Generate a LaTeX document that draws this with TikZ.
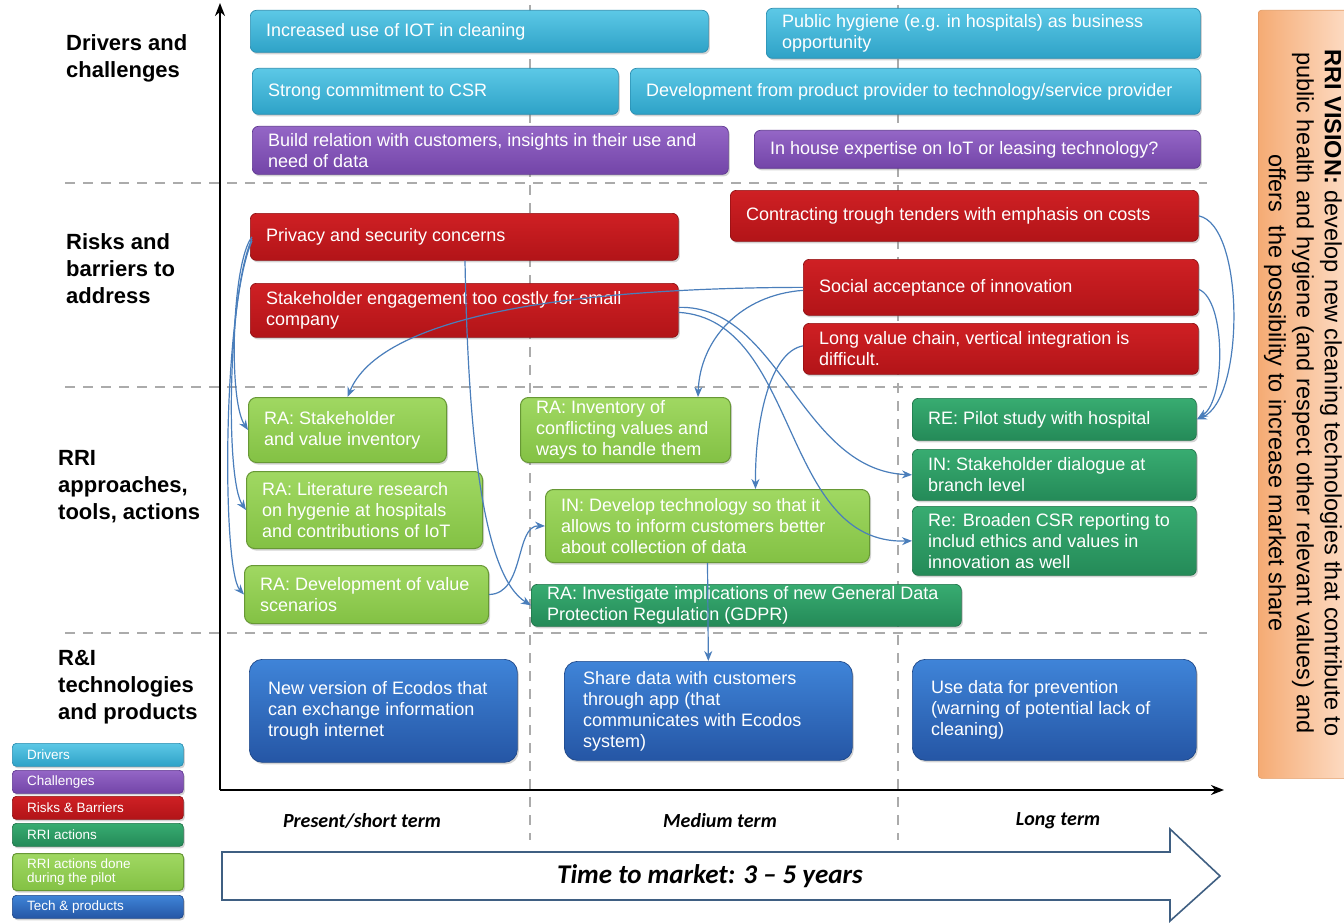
\documentclass[tikz,border=0pt]{standalone}
\usepackage{fontspec}
\setmainfont{Liberation Sans}
\newfontfamily\calib{Carlito}
\usetikzlibrary{arrows.meta,shadows,calc}

\definecolor{drvT}{HTML}{5CC8E6}\definecolor{drvB}{HTML}{2EA2C7}\definecolor{drvL}{HTML}{2A8DB0}
\definecolor{chlT}{HTML}{9466C6}\definecolor{chlB}{HTML}{7345A8}\definecolor{chlL}{HTML}{5E3690}
\definecolor{rskT}{HTML}{CF2024}\definecolor{rskB}{HTML}{B21418}\definecolor{rskL}{HTML}{8E1013}
\definecolor{actT}{HTML}{38AC71}\definecolor{actB}{HTML}{248A58}\definecolor{actL}{HTML}{1E7348}
\definecolor{pilT}{HTML}{A0D862}\definecolor{pilB}{HTML}{83C144}\definecolor{pilL}{HTML}{679835}
\definecolor{tecT}{HTML}{3F84D8}\definecolor{tecB}{HTML}{2556A5}\definecolor{tecL}{HTML}{1E4788}
\definecolor{visL}{HTML}{F5AB74}\definecolor{visR}{HTML}{FDDDC6}\definecolor{visD}{HTML}{E39A62}
\definecolor{linkc}{HTML}{4A7EBB}
\definecolor{sepc}{HTML}{ABABAB}
\definecolor{timec}{HTML}{3F5F82}

% left padding of the text inside a box
\def\rrpad{16}
% a coloured box (named #1) with its text placed on the left
\newcommand\rrbox[7]{%
  \node[#2, anchor=north west, minimum width=#5pt, minimum height=#6pt, inner sep=0pt] (#1) at (#3,#4) {};
  \node[boxtext, anchor=west] at ($(#1.west)+(\rrpad,0)$) {#7};}
% a legend entry
\newcommand\lgbox[5]{%
  \node[#2, anchor=north west, minimum width=171pt, minimum height=#4pt, inner sep=0pt, rounded corners=4pt] (#1) at (12,#3) {};
  \node[lgtext, anchor=west] at ($(#1.west)+(15,0)$) {#5};}

\begin{document}
\begin{tikzpicture}[x=1pt,y=-1pt,
  shade/.style={drop shadow={shadow xshift=1.5pt, shadow yshift=-2pt, opacity=0.35}},
  drv/.style={rounded corners=6pt, top color=drvT, bottom color=drvB, draw=drvL, line width=0.7pt, shade},
  chl/.style={rounded corners=6pt, top color=chlT, bottom color=chlB, draw=chlL, line width=0.7pt, shade},
  rsk/.style={rounded corners=6pt, top color=rskT, bottom color=rskB, draw=rskL, line width=0.7pt, shade},
  act/.style={rounded corners=6pt, top color=actT, bottom color=actB, draw=actL, line width=0.7pt, shade},
  pil/.style={rounded corners=8pt, top color=pilT, bottom color=pilB, draw=pilL, line width=1pt, shade},
  tec/.style={rounded corners=13pt, top color=tecT, bottom color=tecB, draw=tecL, line width=0.7pt, shade},
  boxtext/.style={text=white, align=left, inner sep=0pt, font=\fontsize{18}{21}\selectfont},
  lgtext/.style={text=white, align=left, inner sep=0pt, font=\fontsize{13.5}{14.5}\selectfont},
  rowlabel/.style={anchor=north west, align=left, inner sep=0pt, font=\bfseries\fontsize{22}{27}\selectfont},
  term/.style={font=\calib\bfseries\itshape\fontsize{20}{22}\selectfont, inner sep=0pt},
  sepline/.style={draw=sepc, line width=1.5pt, dash pattern=on 10pt off 8pt},
  axis/.style={draw=black, line width=2.4pt, -{Stealth[length=13pt,width=10pt]}},
  link/.style={draw=linkc, line width=1.2pt, -{Stealth[length=10pt,width=8pt]}},
]
\useasboundingbox (0,0) rectangle (1344,923);

% row and column separators
\foreach \yy in {183,387,633} \draw[sepline] (65,\yy) -- (1207,\yy);
\foreach \xx in {530,898} \draw[sepline] (\xx,5) -- (\xx,840);

% axes
\draw[axis] (220,790) -- (220,3);
\draw[axis] (220,790) -- (1224,790);

% row labels
\node[rowlabel] (lDrv) at (66,34) {Drivers and\\challenges};
\node[rowlabel] (lRsk) at (66,233) {Risks and\\barriers to\\address};
\node[rowlabel] (lRri) at (58,450) {RRI\\approaches,\\tools, actions};
\node[rowlabel] (lTec) at (58,650) {R\&I\\technologies\\and products};

% drivers and challenges
\rrbox{D1}{drv}{250}{10}{458}{42}{Increased use of IOT in cleaning}
\rrbox{D2}{drv}{766}{8}{434}{50}{Public hygiene (e.g. in hospitals) as business\\opportunity}
\rrbox{D3}{drv}{252}{68}{366}{46}{Strong commitment to CSR}
\rrbox{D4}{drv}{630}{68}{570}{46}{Development from product provider to technology/service provider}
\rrbox{C1}{chl}{252}{126}{476}{48}{Build relation with customers, insights in their use and\\need of data}
\rrbox{C2}{chl}{754}{130}{446}{38}{In house expertise on IoT or leasing technology?}

% risks and barriers
\rrbox{R1}{rsk}{730}{190}{468}{51}{Contracting trough tenders with emphasis on costs}
\rrbox{R2}{rsk}{250}{213}{428}{47}{Privacy and security concerns}
\rrbox{R3}{rsk}{250}{283}{428}{54}{Stakeholder engagement too costly for small\\company}
\rrbox{R4}{rsk}{803}{259}{395}{56}{Social acceptance of innovation}
\rrbox{R5}{rsk}{803}{323}{395}{51}{Long value chain, vertical integration is\\difficult.}

% RRI approaches, tools, actions
\rrbox{G1}{pil}{248}{397}{198}{65}{RA: Stakeholder\\and value inventory}
\rrbox{G2}{pil}{520}{397}{210}{65}{RA: Inventory of\\conflicting values and\\ways to handle them}
\rrbox{G3}{pil}{246}{471}{236}{77}{RA: Literature research\\on hygenie at hospitals\\and contributions of IoT}
\rrbox{G4}{pil}{545}{489}{324}{73}{IN: Develop technology so that it\\allows to inform customers better\\about collection of data}
\rrbox{G5}{pil}{244}{565}{244}{58}{RA: Development of value\\scenarios}
\rrbox{E1}{act}{912}{398}{284}{42}{RE: Pilot study with hospital}
\rrbox{E2}{act}{912}{449}{284}{51}{IN: Stakeholder dialogue at\\branch level}
\rrbox{E3}{act}{912}{506}{284}{69}{Re: Broaden CSR reporting to\\includ ethics and values in\\innovation as well}
\rrbox{E4}{act}{531}{584}{430}{42}{RA: Investigate implications of new General Data\\Protection Regulation (GDPR)}

% R&I technologies and products
\def\rrpad{19}
\rrbox{T1}{tec}{249}{659}{268}{103}{New version of Ecodos that\\can exchange information\\trough internet}
\rrbox{T2}{tec}{564}{661}{288}{99}{Share data with customers\\through app (that\\communicates with Ecodos\\system)}
\rrbox{T3}{tec}{912}{659}{284}{101}{Use data for prevention\\(warning of potential lack of\\cleaning)}

% links between boxes
\draw[link] ($(R2.west)+(2,0)$) .. controls (232,262) and (228,400) .. (G1.west);
\draw[link] ($(R2.west)+(2,2)$) .. controls (228,290) and (225,480) .. (G3.west);
\draw[link] ($(R2.west)+(2,4)$) .. controls (222,310) and (222,570) .. (G5.west);
\draw[link] ($(R2.south west)+(215,0)$) .. controls (468,430) and (482,575) .. (E4.west);
\draw[link] (R4.west) .. controls (560,288) and (380,318) .. (G1.north);
\draw[link] ($(R4.west)+(0,3)$) .. controls (740,295) and (700,340) .. ($(G2.north east)+(-33,0)$);
\draw[link] ($(R5.west)+(0,-3)$) .. controls (770,352) and (755,420) .. ($(G4.north)+(48,0)$);
\draw[link] ($(R3.east)+(0,-3)$) .. controls (780,305) and (800,470) .. (E2.west);
\draw[link] ($(R3.east)+(0,2)$) .. controls (800,320) and (780,545) .. (E3.west);
\draw[link] (G5.east) .. controls (525,594) and (515,525) .. (G4.west);
\draw[link] (G4.south) -- (T2.north);
\draw[link] (R1.east) .. controls (1245,225) and (1245,400) .. (E1.east);
\draw[link] ($(R4.east)+(0,2)$) .. controls (1226,300) and (1226,400) .. ($(E1.east)+(1,-1)$);

% vision
\node[anchor=north west, minimum width=92pt, minimum height=768pt, inner sep=0pt,
      left color=visL, right color=visR, draw=visD, line width=0.6pt, rounded corners=3pt] (vis) at (1258,10) {};
\node[rotate=-90, align=center, inner sep=0pt, font=\fontsize{23.5}{28}\selectfont] (visText) at (1303,393)
  {\textbf{RRI VISION:} develop new cleaning technologies that contribute to\\
   public health and hygiene (and respect other relevant values) and\\
   offers\ \ the possibility to increase market share};

% time axis labels
\node[term] (tShort) at (362,821) {Present/short term};
\node[term] (tMed) at (720,821) {Medium term};
\node[term] (tLong) at (1058,821) {Long term};

% time to market arrow
\draw[draw=timec, line width=1.6pt, fill=white, line join=miter]
  (222,852) -- (1170,852) -- (1170,829) -- (1220,876) -- (1170,921) -- (1170,900) -- (222,900) -- cycle;
\node[font=\calib\bfseries\itshape\fontsize{27}{30}\selectfont, inner sep=0pt] (ttm) at (710,876) {Time to market: 3 – 5 years};

% legend
\lgbox{LD}{drv}{743}{23}{Drivers}
\lgbox{LC}{chl}{770}{23}{Challenges}
\lgbox{LR}{rsk}{796}{23}{Risks \& Barriers}
\lgbox{LA}{act}{823}{23}{RRI actions}
\lgbox{LP}{pil}{853}{37}{RRI actions done\\during the pilot}
\lgbox{LT}{tec}{895}{23}{Tech \& products}
\end{tikzpicture}
\end{document}
